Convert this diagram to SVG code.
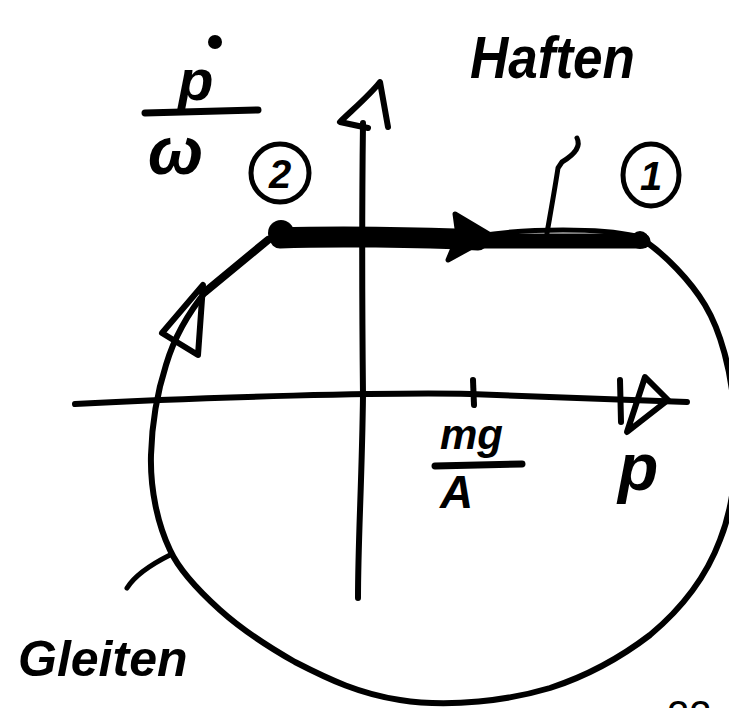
<svg xmlns="http://www.w3.org/2000/svg" width="729" height="708" viewBox="0 0 729 708">
<style>
.s{fill:none;stroke:#000;stroke-linecap:round;stroke-linejoin:round}
.hw{font-family:"Liberation Sans",Arial,sans-serif;font-style:italic;font-weight:bold;fill:#000}
.num{font-family:"Liberation Sans",Arial,sans-serif;fill:#000}
</style>
<rect width="729" height="708" fill="#fff"/>
<g id="connectors">
  <path id="curve" class="s" stroke-width="6" d="M645,241 C665,255 690,280 705,305 C720,330 732,370 735,420 C738,470 732,510 720,540 C705,580 680,610 650,635 C620,658 590,675 550,688 C510,700 450,708 400,700 C360,694 330,680 295,662 C265,645 240,628 220,610 C200,592 180,572 170,550 C158,525 150,490 151,455 C152,420 158,390 166,365 C174,338 188,313 207,290 L268,240"/>
  <path class="s" stroke-width="8" d="M268,240 L205,292"/>
  <path class="s" stroke-width="6" d="M203,285 L198,355 L162,333 Z"/>
  <path id="p-axis" class="s" stroke-width="6" d="M75,404 C200,397 400,392 470,394 L687,402"/>
  <path class="s" stroke-width="6" d="M645,377 L668,400 L627,432 Z M620,380 L621,422"/>
  <path class="s" stroke-width="6" d="M473,380 L474,405"/>
  <path id="v-axis" class="s" stroke-width="6" d="M363,123 C362,200 362,300 363,395 C362,480 358,540 358,598"/>
  <path class="s" stroke-width="6" d="M388,127 L380,82 C370,95 350,112 340,122 L368,128"/>
  <path id="haften-line" class="s" stroke-width="21" d="M280,238 C330,236 420,237 478,240"/>
  <path class="s" stroke-width="15" d="M470,241 L643,241"/>
  <path class="s" stroke-width="5" d="M478,236 C530,228 600,228 636,236"/>
  <circle cx="281" cy="233" r="13" fill="#000"/>
  <circle cx="640" cy="240" r="9" fill="#000"/>
  <path d="M455,214 L492,236 L448,260 L458,236 Z" fill="#000" stroke="#000" stroke-width="5" stroke-linejoin="round"/>
  <path class="s" stroke-width="5" d="M547,233 C551,210 555,188 558,168 L562,162 C572,156 582,148 577,138"/>
  <path class="s" stroke-width="5" d="M127,588 C135,575 150,565 170,555"/>
</g>
<g id="label-pdot-omega">
  <circle cx="215" cy="42" r="7" fill="#000"/>
  <text class="hw" x="178" y="100" font-size="58">p</text>
  <path class="s" stroke-width="7" d="M145,113 L258,110"/>
  <text class="hw" x="148" y="174" font-size="66">ω</text>
</g>
<g id="node-2">
  <circle class="s" stroke-width="5" cx="280" cy="173" r="29"/>
  <text class="hw" x="280" y="188" font-size="40" text-anchor="middle">2</text>
</g>
<g id="node-1">
  <ellipse class="s" stroke-width="5" cx="651" cy="175" rx="28" ry="31"/>
  <text class="hw" x="651" y="190" font-size="40" text-anchor="middle">1</text>
</g>
<g id="label-haften">
  <text class="hw" x="470" y="78" font-size="60" textLength="165" lengthAdjust="spacingAndGlyphs">Haften</text>
</g>
<g id="label-gleiten">
  <text class="hw" x="18" y="676" font-size="50">Gleiten</text>
</g>
<g id="label-mg-A">
  <text class="hw" x="440" y="449" font-size="42">mg</text>
  <path class="s" stroke-width="7" d="M435,466 L522,464"/>
  <text class="hw" x="440" y="508" font-size="46">A</text>
</g>
<g id="label-p">
  <text class="hw" x="618" y="490" font-size="66">p</text>
</g>
<text class="num" x="667" y="729" font-size="40">22</text>
</svg>
